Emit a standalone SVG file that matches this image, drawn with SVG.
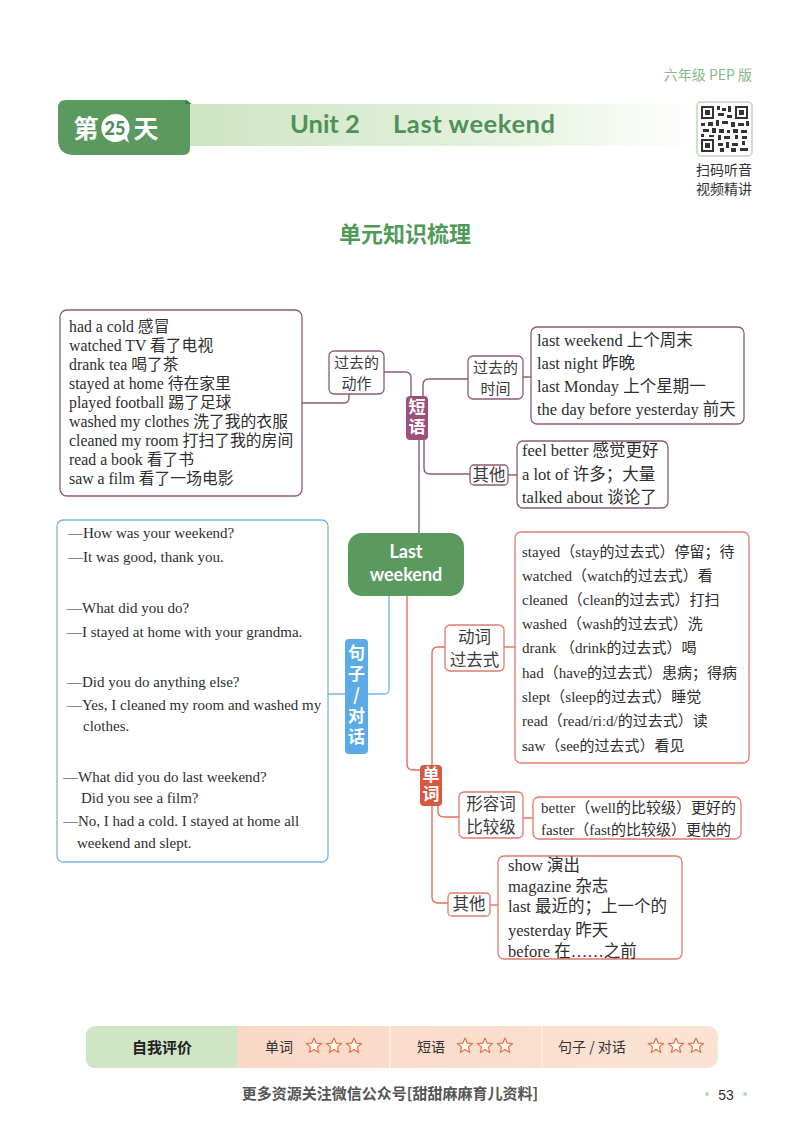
<svg xmlns="http://www.w3.org/2000/svg" width="800" height="1138" viewBox="0 0 800 1138">
<defs>
<linearGradient id="band" x1="0" y1="0" x2="1" y2="0">
<stop offset="0" stop-color="#cde5c2"/>
<stop offset="0.6" stop-color="#e4f1dd"/>
<stop offset="1" stop-color="#ffffff"/>
</linearGradient>
<linearGradient id="bar" x1="0" y1="0" x2="1" y2="0">
<stop offset="0" stop-color="#f8d5c2"/>
<stop offset="1" stop-color="#fbe3d3"/>
</linearGradient>
<path id="star" d="M0,-8 L2.116,-2.912 L7.608,-2.472 L3.424,1.112 L4.702,6.472 L0,3.6 L-4.702,6.472 L-3.424,1.112 L-7.608,-2.472 L-2.116,-2.912 Z" fill="#fffaf0" stroke="#e8704c" stroke-width="1.2" stroke-linejoin="round"/>
</defs>
<style>
.t{font-family:"Liberation Serif","Noto Sans CJK SC",serif;font-size:15px;fill:#2e2e2e}
.t2{font-family:"Liberation Serif","Noto Sans CJK SC",serif;font-size:16.5px;fill:#2e2e2e}
.t3{font-family:"Liberation Serif","Noto Sans CJK SC",serif;font-size:15.8px;fill:#2e2e2e}
.lb{font-family:"Noto Sans CJK SC",sans-serif;font-size:16.5px;fill:#3a3a3a;text-anchor:middle}
.lbs{font-family:"Noto Sans CJK SC",sans-serif;font-size:15px;fill:#3a3a3a;text-anchor:middle}
.pbox{fill:#fff;stroke:#8e5a78;stroke-width:1.3}
.rbox{fill:#fff;stroke:#e47a6a;stroke-width:1.3}
.bbox{fill:#fff;stroke:#78b6e6;stroke-width:1.3}
.tag{font-family:"Noto Sans CJK SC",sans-serif;font-size:17px;font-weight:700;fill:#fff;text-anchor:middle;writing-mode:vertical-rl;text-orientation:upright}
.pc{fill:none;stroke:#8e5a78;stroke-width:1.4}
.rc{fill:none;stroke:#e4705e;stroke-width:1.4}
.bc{fill:none;stroke:#78b6e6;stroke-width:1.4}
.bt{font-family:"Noto Sans CJK SC",sans-serif;font-size:14px;fill:#333}
</style>
<rect width="800" height="1138" fill="#ffffff"/>

<g id="header">
<text x="752" y="80" text-anchor="end" font-family="Noto Sans CJK SC, sans-serif" font-size="14" fill="#86b88a">六年级 PEP 版</text>
<rect x="185" y="104" width="510" height="42" fill="url(#band)"/>
<path d="M66,100 H185 Q190,100 190,105 V148 Q190,155 183,155 H74 Q58,155 58,139 V108 Q58,100 66,100 Z" fill="#5a9a5f"/>
<path d="M185,100 L192,104 L185,104 Z" fill="#3f7a45"/>
<text x="86" y="138" text-anchor="middle" font-family="Noto Sans CJK SC, sans-serif" font-size="25" font-weight="700" fill="#fff">第</text>
<path d="M115,114 A14,14 0 1 0 124,139 L129,143 L127,136 A14,14 0 0 0 115,114 Z" fill="#fff"/>
<text x="115" y="135" text-anchor="middle" font-family="Lato, sans-serif" font-size="18" font-weight="900" fill="#4f8f57">25</text>
<text x="146" y="138" text-anchor="middle" font-family="Noto Sans CJK SC, sans-serif" font-size="25" font-weight="700" fill="#fff">天</text>
<text x="290" y="133" font-family="Lato, sans-serif" font-size="25.5" font-weight="700" fill="#4f9159">Unit 2</text>
<text x="393" y="133" font-family="Lato, sans-serif" font-size="25.5" font-weight="700" letter-spacing="0.6" fill="#4f9159">Last weekend</text>
<g id="qr">
<rect x="697" y="102" width="55" height="54" rx="4" fill="#fff" stroke="#bcd7b4" stroke-width="1.5"/>
<g fill="#333">
<rect x="701" y="106" width="13" height="13"/><rect x="735" y="106" width="13" height="13"/><rect x="701" y="139" width="13" height="13"/>
</g>
<g fill="#fff"><rect x="703" y="108" width="9" height="9"/><rect x="737" y="108" width="9" height="9"/><rect x="703" y="141" width="9" height="9"/></g>
<g fill="#333">
<rect x="705" y="110" width="5" height="5"/><rect x="739" y="110" width="5" height="5"/><rect x="705" y="143" width="5" height="5"/>
<rect x="717" y="106" width="3" height="4"/><rect x="722" y="108" width="4" height="3"/><rect x="728" y="106" width="3" height="6"/><rect x="718" y="113" width="6" height="3"/><rect x="727" y="115" width="5" height="3"/>
<rect x="701" y="123" width="4" height="3"/><rect x="708" y="122" width="5" height="4"/><rect x="716" y="120" width="3" height="6"/><rect x="722" y="121" width="6" height="3"/><rect x="731" y="122" width="4" height="5"/><rect x="738" y="123" width="6" height="3"/><rect x="746" y="121" width="3" height="5"/>
<rect x="703" y="129" width="6" height="3"/><rect x="712" y="128" width="4" height="5"/><rect x="719" y="129" width="5" height="4"/><rect x="727" y="130" width="3" height="3"/><rect x="733" y="129" width="5" height="4"/><rect x="741" y="130" width="6" height="3"/>
<rect x="701" y="134" width="3" height="3"/><rect x="709" y="135" width="5" height="2"/><rect x="718" y="135" width="3" height="5"/><rect x="724" y="136" width="6" height="3"/><rect x="735" y="135" width="3" height="4"/><rect x="742" y="136" width="5" height="3"/>
<rect x="718" y="143" width="5" height="3"/><rect x="726" y="142" width="3" height="6"/><rect x="732" y="143" width="6" height="3"/><rect x="742" y="141" width="3" height="4"/><rect x="720" y="148" width="4" height="4"/><rect x="731" y="148" width="5" height="4"/><rect x="740" y="148" width="8" height="3"/>
</g>
</g>
<text x="724" y="175" text-anchor="middle" class="bt">扫码听音</text>
<text x="724" y="194" text-anchor="middle" class="bt">视频精讲</text>
<text x="405" y="242" text-anchor="middle" font-family="Noto Sans CJK SC, sans-serif" font-size="22" font-weight="700" fill="#4f9a57">单元知识梳理</text>
</g>

<g id="connectors">
<path class="pc" d="M302,403 H344 Q349,403 349,398 V394"/>
<path class="pc" d="M384,372 H405 Q411,372 411,378 V397"/>
<path class="pc" d="M423,397 V385 Q423,379 429,379 H468"/>
<path class="pc" d="M523,377 H531"/>
<path class="pc" d="M424,440 V468 Q424,474 430,474 H470"/>
<path class="pc" d="M508,475 H517"/>
<path class="pc" d="M419,440 V533"/>
<path class="bc" d="M389,596 V689 Q389,694 384,694 H328"/>
<path class="rc" d="M407,596 V764 Q407,770 413,770 H420"/>
<path class="rc" d="M432,765 V653 Q432,647 438,647 H445"/>
<path class="rc" d="M504,647 H515"/>
<path class="rc" d="M438,806 V811 Q438,817 444,817 H459"/>
<path class="rc" d="M523,818 H533"/>
<path class="rc" d="M432,806 V897 Q432,903 438,903 H448"/>
<path class="rc" d="M490,905 H498"/>
</g>

<g id="node-actions-list">
<rect class="pbox" x="60" y="310" width="242" height="186" rx="7"/>
<text class="t3" x="69" y="332">had a cold 感冒</text>
<text class="t3" x="69" y="351">watched TV 看了电视</text>
<text class="t3" x="69" y="370">drank tea 喝了茶</text>
<text class="t3" x="69" y="389">stayed at home 待在家里</text>
<text class="t3" x="69" y="408">played football 踢了足球</text>
<text class="t3" x="69" y="427">washed my clothes 洗了我的衣服</text>
<text class="t3" x="69" y="446">cleaned my room 打扫了我的房间</text>
<text class="t3" x="69" y="465">read a book 看了书</text>
<text class="t3" x="69" y="484">saw a film 看了一场电影</text>
</g>
<g id="node-past-actions">
<rect class="pbox" x="329" y="351" width="55" height="43" rx="5"/>
<text class="lbs" x="356.5" y="368">过去的<tspan x="356.5" dy="21">动作</tspan></text>
</g>
<g id="node-phrases">
<rect x="406" y="396" width="22" height="44" rx="4" fill="#9c4f7e"/>
<text class="tag" x="417" y="418" letter-spacing="3">短语</text>
</g>
<g id="node-past-time">
<rect class="pbox" x="468" y="356" width="55" height="43" rx="5"/>
<text class="lbs" x="495.5" y="373">过去的<tspan x="495.5" dy="21">时间</tspan></text>
</g>
<g id="node-time-list">
<rect class="pbox" x="531" y="327" width="213" height="97" rx="6"/>
<text class="t2" x="537" y="346">last weekend 上个周末</text>
<text class="t2" x="537" y="369">last night 昨晚</text>
<text class="t2" x="537" y="392">last Monday 上个星期一</text>
<text class="t2" x="537" y="415">the day before yesterday 前天</text>
</g>
<g id="node-phrase-other">
<rect class="pbox" x="470" y="465" width="38" height="20" rx="4"/>
<text class="lb" x="489" y="481">其他</text>
</g>
<g id="node-phrase-other-list">
<rect class="pbox" x="517" y="441" width="151" height="67" rx="6"/>
<text class="t2" x="522" y="456">feel better 感觉更好</text>
<text class="t2" x="522" y="480">a lot of 许多；大量</text>
<text class="t2" x="522" y="503">talked about 谈论了</text>
</g>

<g id="node-center">
<rect x="348" y="533" width="116" height="63" rx="14" fill="#5a9a5f"/>
<text x="406" y="558" text-anchor="middle" font-family="Lato, sans-serif" font-size="18" font-weight="700" fill="#fff">Last<tspan x="406" dy="23">weekend</tspan></text>
</g>

<g id="node-sentences">
<rect x="345" y="639" width="23" height="115" rx="4" fill="#5aabe8"/>
<text class="tag" x="356.5" y="696.5" font-size="18" letter-spacing="4">句子/对话</text>
</g>
<g id="node-sentences-list">
<rect class="bbox" x="57" y="520" width="271" height="342" rx="6"/>
<text class="t" x="68" y="538">—How was your weekend?</text>
<text class="t" x="68" y="562">—It was good, thank you.</text>
<text class="t" x="67" y="613">—What did you do?</text>
<text class="t" x="67" y="637">—I stayed at home with your grandma.</text>
<text class="t" x="67" y="687">—Did you do anything else?</text>
<text class="t" x="67" y="710">—Yes, I cleaned my room and washed my</text>
<text class="t" x="83" y="731">clothes.</text>
<text class="t" x="63" y="782">—What did you do last weekend?</text>
<text class="t" x="81" y="803">Did you see a film?</text>
<text class="t" x="63" y="826">—No, I had a cold. I stayed at home all</text>
<text class="t" x="77" y="848">weekend and slept.</text>
</g>

<g id="node-words">
<rect x="420" y="765" width="22" height="41" rx="4" fill="#d9573f"/>
<text class="tag" x="431" y="785.5" letter-spacing="2">单词</text>
</g>
<g id="node-verb-past">
<rect class="rbox" x="445" y="625" width="59" height="46" rx="5"/>
<text class="lb" x="474.5" y="643">动词<tspan x="474.5" dy="23">过去式</tspan></text>
</g>
<g id="node-verb-list">
<rect class="rbox" x="515" y="532" width="234" height="231" rx="6"/>
<text class="t" x="522" y="557">stayed（stay的过去式）停留；待</text>
<text class="t" x="522" y="581">watched（watch的过去式）看</text>
<text class="t" x="522" y="605">cleaned（clean的过去式）打扫</text>
<text class="t" x="522" y="629">washed（wash的过去式）洗</text>
<text class="t" x="522" y="653">drank （drink的过去式）喝</text>
<text class="t" x="522" y="678">had（have的过去式）患病；得病</text>
<text class="t" x="522" y="702">slept（sleep的过去式）睡觉</text>
<text class="t" x="522" y="726">read（read/riːd/的过去式）读</text>
<text class="t" x="522" y="751">saw（see的过去式）看见</text>
</g>
<g id="node-adj">
<rect class="rbox" x="459" y="792" width="64" height="46" rx="5"/>
<text class="lb" x="491" y="810">形容词<tspan x="491" dy="23">比较级</tspan></text>
</g>
<g id="node-adj-list">
<rect class="rbox" x="533" y="797" width="208" height="42" rx="6"/>
<text class="t" x="541" y="813">better（well的比较级）更好的</text>
<text class="t" x="541" y="835">faster（fast的比较级）更快的</text>
</g>
<g id="node-word-other">
<rect class="rbox" x="448" y="893" width="42" height="23" rx="4"/>
<text class="lb" x="469" y="910">其他</text>
</g>
<g id="node-word-other-list">
<rect class="rbox" x="498" y="856" width="184" height="103" rx="6"/>
<text class="t2" x="508" y="871">show 演出</text>
<text class="t2" x="508" y="892">magazine 杂志</text>
<text class="t2" x="508" y="912">last  最近的；上一个的</text>
<text class="t2" x="508" y="936">yesterday 昨天</text>
<text class="t2" x="508" y="957">before 在……之前</text>
</g>

<g id="self-evaluation">
<rect x="86" y="1026" width="632" height="42" rx="10" fill="url(#bar)"/>
<path d="M96,1026 H237 V1068 H96 Q86,1068 86,1058 V1036 Q86,1026 96,1026 Z" fill="#cfe6c5"/>
<line x1="390" y1="1026" x2="390" y2="1068" stroke="#fdeee6" stroke-width="1.5"/>
<line x1="542" y1="1026" x2="542" y2="1068" stroke="#fdeee6" stroke-width="1.5"/>
<text x="162" y="1053" text-anchor="middle" font-family="Noto Sans CJK SC, sans-serif" font-size="15" font-weight="700" fill="#222">自我评价</text>
<text x="265" y="1052" class="bt">单词</text>
<use href="#star" x="314" y="1046"/><use href="#star" x="334" y="1046"/><use href="#star" x="354" y="1046"/>
<text x="417" y="1052" class="bt">短语</text>
<use href="#star" x="465" y="1046"/><use href="#star" x="485" y="1046"/><use href="#star" x="505" y="1046"/>
<text x="558" y="1052" class="bt">句子 / 对话</text>
<use href="#star" x="656" y="1046"/><use href="#star" x="676" y="1046"/><use href="#star" x="696" y="1046"/>
</g>

<g id="footer">
<text x="390" y="1099" text-anchor="middle" font-family="Noto Sans CJK SC, sans-serif" font-size="15" font-weight="700" fill="#555">更多资源关注微信公众号[甜甜麻麻育儿资料]</text>
<circle cx="707" cy="1094" r="2" fill="#b8d8b0"/>
<text x="726" y="1100" text-anchor="middle" font-family="Liberation Sans, sans-serif" font-size="14" fill="#333">53</text>
<circle cx="745" cy="1094" r="2" fill="#b8d8b0"/>
</g>
</svg>
